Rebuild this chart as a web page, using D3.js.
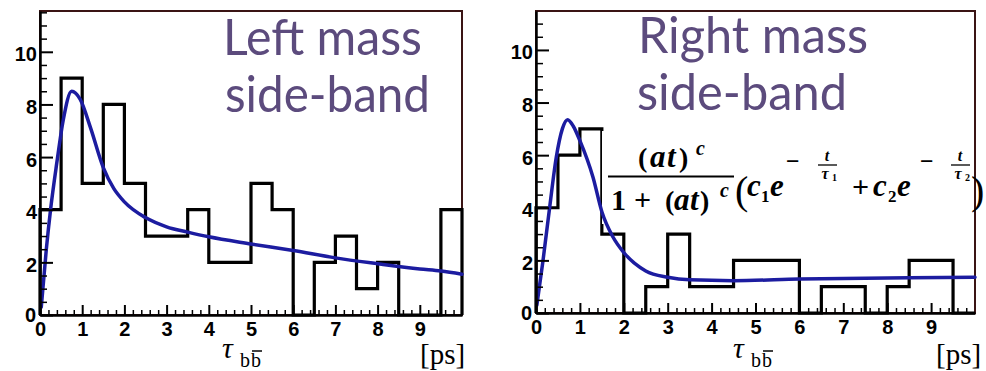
<!DOCTYPE html>
<html><head><meta charset="utf-8">
<script src="https://cdn.jsdelivr.net/npm/d3@7"></script>
<style>
html,body{margin:0;padding:0;background:#fff;}
svg{display:block;}
</style></head>
<body>
<svg id="c" width="986" height="371"></svg>
<script>
// ---------------- data ----------------
const binStarts = [0,0.5,1,1.5,2,2.5,3,3.5,4,4.5,5,5.5,6,6.5,7,7.5,8,8.5,9,9.5];
const binWidth = 0.5;
const leftCounts  = [4,9,5,8,5,3,3,4,2,2,5,4,0,2,3,1,2,0,0,4];
const rightCounts = [4,6,7,3,0,1,3,1,1,2,2,2,0,1,1,0,1,2,2,0];

const leftFitX = [0.03,0.15,0.25,0.4,0.55,0.75,0.95,1.2,1.5,1.75,2.0,2.5,3.0,3.5,4.0,5.0,6.0,7.0,8.0,9.0,9.5,10.0];
const leftFitY = [0.3,2.5,4.0,5.8,7.4,8.5,8.2,7.1,5.6,4.8,4.3,3.7,3.35,3.15,2.97,2.7,2.45,2.17,1.95,1.75,1.67,1.55];

const rightFitX = [0.02,0.16,0.31,0.46,0.6,0.72,0.85,1.0,1.3,1.5,1.75,2.0,2.5,3.0,3.5,4.5,6.0,8.5,10.0];
const rightFitY = [0.3,2.0,4.0,5.9,7.0,7.35,7.1,6.55,5.15,3.85,2.9,2.3,1.6,1.36,1.26,1.23,1.29,1.34,1.36];

const xTickValues = [0,1,2,3,4,5,6,7,8,9];
const yTickValues = [0,2,4,6,8,10];
const leftTitle  = ["Left mass","side-band"];
const rightTitle = ["Right mass","side-band"];

// ---------------- drawing ----------------
const svg = d3.select("#c");
const FRAME = "#3a1414";
const SANS = "'Liberation Sans', Arial, sans-serif";
const SERIF = "'Liberation Serif', 'Times New Roman', serif";

function panel(cfg){
  const x = d3.scaleLinear().domain([0,10]).range([cfg.x0, cfg.x1]);
  const y = d3.scaleLinear().domain([0,cfg.ymax]).range([cfg.y0, cfg.y1]);
  const g = svg.append("g");

  g.append("rect").attr("x",cfg.x0).attr("y",cfg.y1)
    .attr("width",cfg.x1-cfg.x0).attr("height",cfg.y0-cfg.y1)
    .attr("fill","none").attr("stroke",FRAME).attr("stroke-width",2);

  const pts = [[0,0]];
  binStarts.forEach((b,i)=>{ pts.push([b,cfg.counts[i]]); pts.push([b+binWidth,cfg.counts[i]]); });
  pts.push([10,0]);
  g.append("path").datum(pts)
    .attr("d", d3.line().x(d=>x(d[0])).y(d=>y(d[1])))
    .attr("fill","none").attr("stroke","#000").attr("stroke-width",3.2).attr("stroke-linejoin","miter");

  if (cfg.beforeFit) cfg.beforeFit(g);

  const fit = cfg.fitX.map((v,i)=>[v,cfg.fitY[i]]);
  g.append("path").datum(fit)
    .attr("d", d3.line().curve(d3.curveMonotoneX).x(d=>x(d[0])).y(d=>y(d[1])))
    .attr("fill","none").attr("stroke","#1c1ca0").attr("stroke-width",3.5).attr("stroke-linecap","round");

  const xMinor = d3.range(0,10.0001,0.2).filter(v=>Math.abs(v-Math.round(v))>1e-6);
  const yMinor = d3.range(0,cfg.ymax,0.5).filter(v=>Math.abs(v/2-Math.round(v/2))>1e-6);
  g.append("g").attr("transform",`translate(0,${cfg.y0})`)
    .call(d3.axisBottom(x).tickValues(xMinor).tickSize(-5).tickFormat(""))
    .call(s=>s.select(".domain").remove())
    .selectAll("line").attr("stroke","#000").attr("stroke-width",1.5);
  g.append("g").attr("transform",`translate(${cfg.x0},0)`)
    .call(d3.axisLeft(y).tickValues(yMinor).tickSize(-7).tickFormat(""))
    .call(s=>s.select(".domain").remove())
    .selectAll("line").attr("stroke","#000").attr("stroke-width",1.5);

  const xa = g.append("g").attr("transform",`translate(0,${cfg.y0})`)
    .call(d3.axisBottom(x).tickValues(xTickValues).tickSize(-10).tickPadding(7).tickSizeOuter(0));
  xa.select(".domain").attr("stroke","#000").attr("stroke-width",2.5);
  xa.selectAll("line").attr("stroke","#000").attr("stroke-width",2);
  xa.selectAll("text").style("font-family",SANS).style("font-weight","bold")
    .style("font-size","20px").attr("fill","#000");

  const ya = g.append("g").attr("transform",`translate(${cfg.x0},0)`)
    .call(d3.axisLeft(y).tickValues(yTickValues).tickSize(-13).tickPadding(3).tickSizeOuter(0));
  ya.select(".domain").attr("stroke","#000").attr("stroke-width",2.5);
  ya.selectAll("line").attr("stroke","#000").attr("stroke-width",2);
  ya.selectAll("text").style("font-family",SANS).style("font-weight","bold")
    .style("font-size","20px").attr("fill","#000").attr("dy","0.45em");
  ya.selectAll(".tick").filter(d=>d===0).select("text").attr("dy","0.3em").attr("x",-4);

  // axis title  tau_{b bbar}
  const tx = cfg.tauX;
  g.append("text").attr("x",tx).attr("y",358).text("τ")
    .style("font-family",SERIF).style("font-style","italic").style("font-size","30px").attr("fill","#000");
  g.append("text").attr("x",tx+18).attr("y",367).text("b")
    .style("font-family",SERIF).style("font-size","20px").attr("fill","#000");
  g.append("text").attr("x",tx+29).attr("y",367).text("b")
    .style("font-family",SERIF).style("font-size","20px").attr("fill","#000");
  g.append("line").attr("x1",tx+30).attr("x2",tx+40).attr("y1",351).attr("y2",351)
    .attr("stroke","#000").attr("stroke-width",1.5);
  g.append("text").attr("x",cfg.psX).attr("y",364).text("[ps]")
    .style("font-family",SERIF).style("font-size","29px").attr("fill","#000");

  cfg.title.forEach((s,i)=>{
    g.append("text").attr("x",cfg.titleX[i]).attr("y",cfg.titleY[i]).text(s)
      .style("font-family","Lato, 'Open Sans', sans-serif").style("font-size","50px")
      .attr("fill","#5c4b7d").attr("textLength",cfg.titleW[i]).attr("lengthAdjust","spacingAndGlyphs");
  });
  return {x,y,g};
}

panel({x0:40,x1:462,y0:315,y1:11,ymax:11.55,counts:leftCounts,fitX:leftFitX,fitY:leftFitY,
  tauX:222,psX:420,title:leftTitle,titleX:[223,225],titleY:[55,112],titleW:[199,205]});

panel({x0:536,x1:975,y0:313,y1:11,ymax:11.48,counts:rightCounts,fitX:rightFitX,fitY:rightFitY,
  tauX:733,psX:936,title:rightTitle,titleX:[638,637],titleY:[53,110],titleW:[230,210],
  beforeFit:(g)=>{
    g.append("rect").attr("x",602).attr("y",131).attr("width",372).attr("height",93).attr("fill","#fff");
  }});

// formula, glyph by glyph
const F = svg.append("g").style("font-family",SERIF).style("font-weight","bold").attr("fill","#000");
function put(s,x,y,size,it,mid){
  const e = F.append("text").attr("x",x).attr("y",y).style("font-size",size+"px").text(s);
  if(it) e.style("font-style","italic");
  if(mid) e.attr("text-anchor","middle");
  return e;
}
// numerator
put("(",638,167,28); put("a",650,167,31,true); put("t",667,167,31,true); put(")",679,167,28);
put("c",696,155,20,true);
F.append("line").attr("x1",608).attr("x2",734).attr("y1",176.5).attr("y2",176.5).attr("stroke","#000").attr("stroke-width",2.2);
// denominator
put("1",611,210,30); put("+",634,210,30);
put("(",665,210,28); put("a",674,210,31,true); put("t",690,210,31,true); put(")",700,210,28);
put("c",720,197,20,true);
// bracket part
put("(",735,204,40).style("font-weight","normal");
put("c",747,196,31,true); put("1",761,202,17);
put("e",770,196,31,true);
put("−",786,169,24);
put("t",827,161,16,true,true);
F.append("line").attr("x1",818).attr("x2",837).attr("y1",165).attr("y2",165).attr("stroke","#000").attr("stroke-width",1.3);
put("τ",825,179,16,true,true); put("1",832,181,10);
put("+",852,197,30);
put("c",873,196,31,true); put("2",888,202,17);
put("e",897,196,31,true);
put("−",920,169,24);
put("t",960,161,16,true,true);
F.append("line").attr("x1",951).attr("x2",970).attr("y1",165).attr("y2",165).attr("stroke","#000").attr("stroke-width",1.3);
put("τ",958,179,16,true,true); put("2",965,181,10);
put(")",971,204,40).style("font-weight","normal");
</script>
</body></html>
